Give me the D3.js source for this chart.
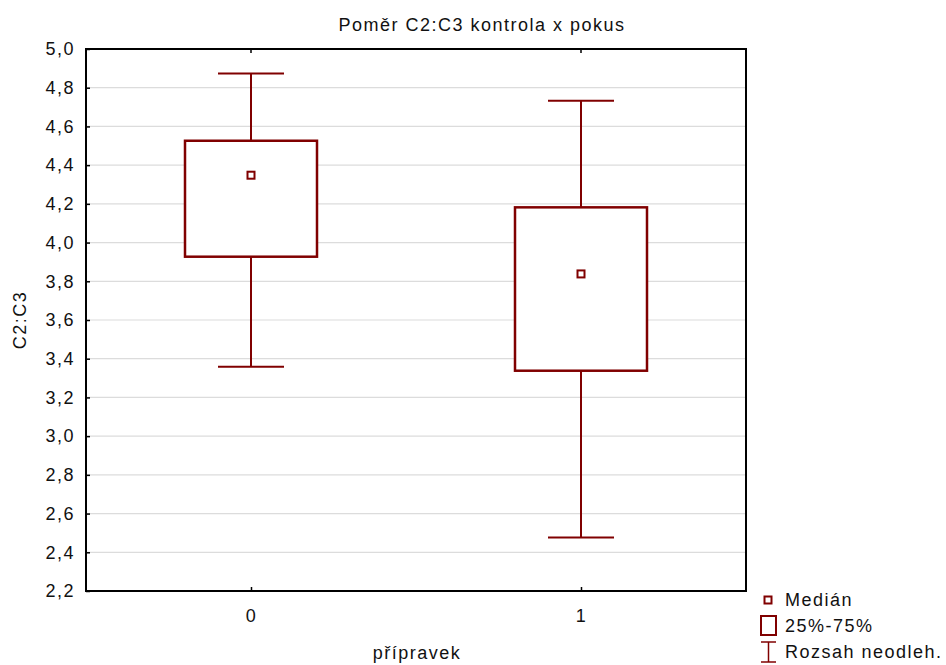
<!DOCTYPE html>
<html>
<head>
<meta charset="utf-8">
<script src="https://cdn.jsdelivr.net/npm/d3@7"></script>
<style>
  body { margin: 0; background: #fff; }
  svg text { font-family: "Liberation Sans", Arial, sans-serif; fill: #111; letter-spacing: 1.5px; }
</style>
</head>
<body>
<svg id="chart" width="946" height="665"></svg>
<script>
// Groups and their summary statistics (C2:C3 ratio)
const categories = ["0", "1"];
const medians   = [4.348, 3.838];
const q1        = [3.927, 3.338];
const q3        = [4.526, 4.182];
const minVals   = [3.359, 2.476];
const maxVals   = [4.874, 4.733];
const yTicks    = [2.2, 2.4, 2.6, 2.8, 3.0, 3.2, 3.4, 3.6, 3.8, 4.0, 4.2, 4.4, 4.6, 4.8, 5.0];
const legendLabels = ["Medián", "25%-75%", "Rozsah neodleh."];

const svg = d3.select("#chart");
const margin = { left: 86, right: 200, top: 49, bottom: 74 };
const W = 946, H = 665;
const x0 = margin.left, x1 = W - margin.right, y0 = margin.top, y1 = H - margin.bottom;
const red = "#800000";
const fs = 18;
const fmt = d => d.toFixed(1).replace(".", ",");

const x = d3.scalePoint().domain(categories).range([x0, x1]).padding(0.5);
const y = d3.scaleLinear().domain([2.2, 5.0]).range([y1, y0]);
const step = x.step();

// Gridlines
svg.append("g").selectAll("line").data(yTicks.slice(1, -1)).join("line")
  .attr("x1", x0).attr("x2", x1)
  .attr("y1", d => y(d)).attr("y2", d => y(d))
  .attr("stroke", "#dcdcdc").attr("stroke-width", 1.2);

// Y axis
const yAxis = d3.axisLeft(y).tickValues(yTicks).tickFormat(fmt).tickSizeInner(-4).tickSizeOuter(0).tickPadding(11);
const gy = svg.append("g").attr("transform", `translate(${x0},0)`).call(yAxis);
gy.select(".domain").remove();
gy.selectAll("line").attr("stroke", "#000").attr("stroke-width", 1.5);
gy.selectAll("text").attr("font-size", fs).attr("font-family", null).style("fill", "#111");

// X axis
const xAxis = d3.axisBottom(x).tickSizeInner(-4).tickSizeOuter(0).tickPadding(18);
const gx = svg.append("g").attr("transform", `translate(0,${y1})`).call(xAxis);
gx.select(".domain").remove();
gx.selectAll("line").attr("stroke", "#000").attr("stroke-width", 1.5);
gx.selectAll("text").attr("font-size", fs).attr("font-family", null).style("fill", "#111");

// Top tick marks
svg.append("g").selectAll("line").data(categories).join("line")
  .attr("x1", d => x(d)).attr("x2", d => x(d))
  .attr("y1", y0).attr("y2", y0 + 4)
  .attr("stroke", "#000").attr("stroke-width", 1.5);

// Frame
svg.append("rect").attr("x", x0).attr("y", y0).attr("width", x1 - x0).attr("height", y1 - y0)
  .attr("fill", "none").attr("stroke", "#000").attr("stroke-width", 2);

// Boxes
const idx = d3.range(categories.length);
const boxW = step * 0.4, capW = step * 0.2;
const g = svg.append("g");
idx.forEach(i => {
  const cx = x(categories[i]);
  g.append("line").attr("x1", cx).attr("x2", cx).attr("y1", y(maxVals[i])).attr("y2", y(q3[i]))
    .attr("stroke", red).attr("stroke-width", 2);
  g.append("line").attr("x1", cx).attr("x2", cx).attr("y1", y(q1[i])).attr("y2", y(minVals[i]))
    .attr("stroke", red).attr("stroke-width", 2);
  g.append("line").attr("x1", cx - capW / 2).attr("x2", cx + capW / 2).attr("y1", y(maxVals[i])).attr("y2", y(maxVals[i]))
    .attr("stroke", red).attr("stroke-width", 2);
  g.append("line").attr("x1", cx - capW / 2).attr("x2", cx + capW / 2).attr("y1", y(minVals[i])).attr("y2", y(minVals[i]))
    .attr("stroke", red).attr("stroke-width", 2);
  g.append("rect").attr("x", cx - boxW / 2).attr("y", y(q3[i])).attr("width", boxW).attr("height", y(q1[i]) - y(q3[i]))
    .attr("fill", "#fff").attr("stroke", red).attr("stroke-width", 2.5);
  g.append("rect").attr("x", cx - 3.5).attr("y", y(medians[i]) - 3.5).attr("width", 7).attr("height", 7)
    .attr("fill", "#fff").attr("stroke", red).attr("stroke-width", 2);
});

// Title and axis labels
svg.append("text").attr("x", 482).attr("y", 31).attr("text-anchor", "middle").attr("font-size", fs)
  .text("Poměr C2:C3 kontrola x pokus");
svg.append("text").attr("transform", `translate(26,${(y0 + y1) / 2}) rotate(-90)`).attr("text-anchor", "middle")
  .attr("font-size", fs).text("C2:C3");
svg.append("text").attr("x", (x0 + x1) / 2 + 1).attr("y", 659).attr("text-anchor", "middle").attr("font-size", fs)
  .text("přípravek");

// Legend
const lg = svg.append("g");
lg.append("rect").attr("x", 764.5).attr("y", 596.5).attr("width", 7).attr("height", 7)
  .attr("fill", "#fff").attr("stroke", red).attr("stroke-width", 2);
lg.append("rect").attr("x", 761).attr("y", 616).attr("width", 15).attr("height", 19)
  .attr("fill", "#fff").attr("stroke", red).attr("stroke-width", 2);
lg.append("line").attr("x1", 761).attr("x2", 776).attr("y1", 642).attr("y2", 642).attr("stroke", red).attr("stroke-width", 1.5);
lg.append("line").attr("x1", 761).attr("x2", 776).attr("y1", 662).attr("y2", 662).attr("stroke", red).attr("stroke-width", 1.5);
lg.append("line").attr("x1", 768.5).attr("x2", 768.5).attr("y1", 642).attr("y2", 662).attr("stroke", red).attr("stroke-width", 1.5);
lg.selectAll("text.lt").data(legendLabels).join("text").attr("class", "lt")
  .attr("x", 785).attr("y", (d, i) => 606 + i * 26).attr("font-size", fs).text(d => d);
</script>
</body>
</html>
